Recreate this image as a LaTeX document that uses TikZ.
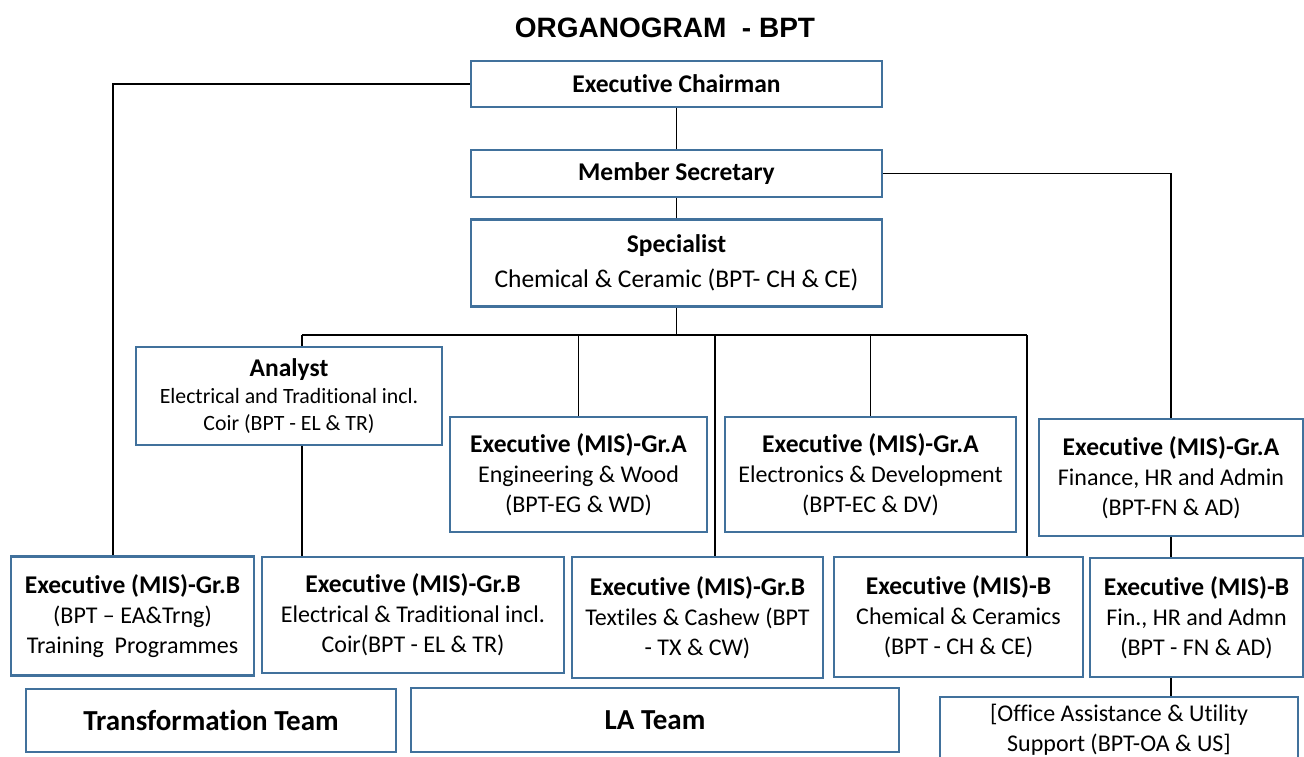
\documentclass[tikz,border=0pt]{standalone}
\usepackage{fontspec}
\setmainfont{Carlito}[Ligatures={NoCommon}]
\newfontfamily\headfont{Liberation Sans}
\usepackage{tikz}
\usetikzlibrary{positioning}
\usepackage{xcolor}
\definecolor{bptblue}{RGB}{65,113,156}
\newcommand{\boxhead}[1]{{\fontsize{25.5}{30}\selectfont\bfseries #1}}
\tikzstyle{link} = [line width=1.6pt, color=black]
\tikzstyle{post} = [rectangle, draw=bptblue, line width=2.6pt, align=center, inner sep=2pt, font=\fontsize{24}{30}\selectfont]
\tikzstyle{team} = [post, font=\fontsize{29}{34}\selectfont\bfseries]

\begin{document}
\begin{tikzpicture}[x=1pt, y=-1pt]
\useasboundingbox (0,0) rectangle (1304,757);
\clip (0,0) rectangle (1304,757);
% Title
\node[font=\headfont\bfseries\fontsize{28}{34}\selectfont] (title) at (665,28) {ORGANOGRAM\ \ - BPT};

% Top of the chart
\node[post, minimum width=411pt, minimum height=46pt] (chair) at (676.5,84) {\boxhead{Executive Chairman}};
\node[post, minimum width=411pt, minimum height=47pt] (msec) at (676.5,173.5) {\boxhead{Member Secretary}};
\node[post, minimum width=411pt, minimum height=87pt, font=\fontsize{25.5}{30}\selectfont] (spec) at (676.5,263) {\boxhead{Specialist}\\[5pt]Chemical \& Ceramic (BPT- CH \& CE)};

% Middle row
\node[post, minimum width=306pt, minimum height=98pt, font=\fontsize{21.8}{27}\selectfont] (analyst) at (289,396) {{\fontsize{25.5}{27}\selectfont\bfseries Analyst}\\Electrical and Traditional incl.\\Coir (BPT - EL \& TR)};
\node[post, minimum width=257pt, minimum height=115pt] (engA) at (578.5,474.5) {\boxhead{Executive (MIS)-Gr.A}\\Engineering \& Wood\\(BPT-EG \& WD)};
\node[post, minimum width=291pt, minimum height=115pt] (elecA) at (870.5,474.5) {\boxhead{Executive (MIS)-Gr.A}\\Electronics \& Development\\(BPT-EC \& DV)};
\node[post, minimum width=264pt, minimum height=117pt] (finA) at (1171,477.5) {\boxhead{Executive (MIS)-Gr.A}\\Finance, HR and Admin\\(BPT-FN \& AD)};

% Bottom row
\node[post, minimum width=243pt, minimum height=119pt] (trainB) at (132.5,616) {\boxhead{Executive (MIS)-Gr.B}\\(BPT \textendash\ EA\&Trng)\\Training\ \ Programmes};
\node[post, minimum width=302pt, minimum height=116pt] (elB) at (413,615) {\boxhead{Executive (MIS)-Gr.B}\\Electrical \& Traditional incl.\\Coir(BPT - EL \& TR)};
\node[post, minimum width=251pt, minimum height=121pt] (texB) at (697.5,617.5) {\boxhead{Executive (MIS)-Gr.B}\\Textiles \& Cashew (BPT\\- TX \& CW)};
\node[post, minimum width=249pt, minimum height=120pt] (chemB) at (958.5,617) {\boxhead{Executive (MIS)-B}\\Chemical \& Ceramics\\(BPT - CH \& CE)};
\node[post, minimum width=213pt, minimum height=119pt] (finB) at (1196.5,617.5) {\boxhead{Executive (MIS)-B}\\Fin., HR and Admn\\(BPT - FN \& AD)};

% Teams
\node[team, minimum width=370pt, minimum height=63pt] (transf) at (211,720.5) {Transformation Team};
\node[team, minimum width=488pt, minimum height=64pt] (lateam) at (655,720) {LA Team};
\node[post, minimum width=358pt, minimum height=65pt] (office) at (1119,729.5) {[Office Assistance \& Utility\\Support (BPT-OA \& US]};

% Lines
\coordinate (trc) at (113,84);
\coordinate (busL) at (302,335);
\coordinate (busT) at (715,335);
\coordinate (busR) at (1027,335);
\draw[link] (chair.west) -- (trc) -- (trc |- trainB.north);
\draw[link] (chair.south) -- (msec.north);
\draw[link] (msec.south) -- (spec.north);
\draw[link] (msec.east) -| (finA.north);
\draw[link] (spec.south) -- (spec.south |- busL);
\draw[link] (busL) -- (busR);
\draw[link] (busL) -- (busL |- analyst.north);
\draw[link] (busL |- analyst.south) -- (busL |- elB.north);
\draw[link] (engA.north |- busL) -- (engA.north);
\draw[link] (busT) -- (busT |- texB.north);
\draw[link] (elecA.north |- busL) -- (elecA.north);
\draw[link] (busR) -- (busR |- chemB.north);
\draw[link] (finA.south) -- (finA.south |- finB.north);
\draw[link] (finA.south |- finB.south) -- (finA.south |- office.north);
\end{tikzpicture}
\end{document}
